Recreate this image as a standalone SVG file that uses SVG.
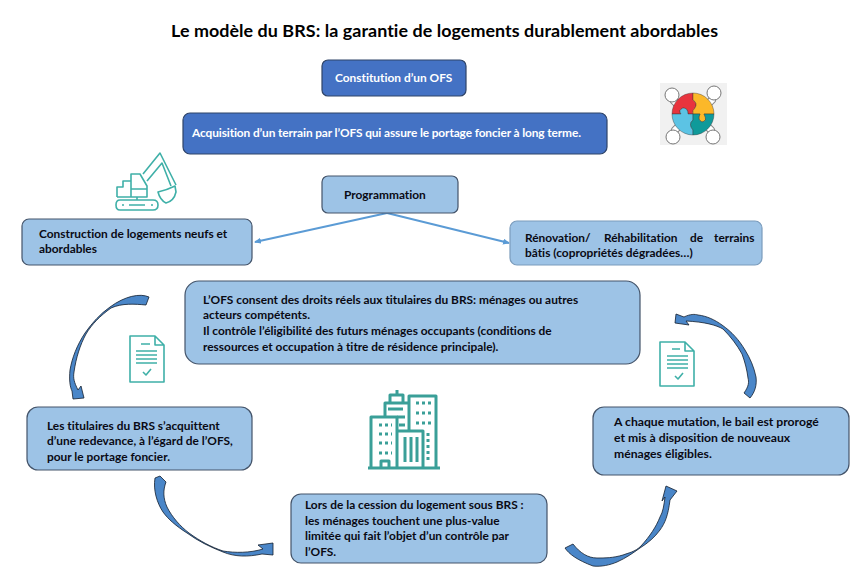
<svg xmlns="http://www.w3.org/2000/svg" width="868" height="575" viewBox="0 0 868 575">
<defs>
<marker id="ah" markerWidth="8" markerHeight="8" refX="6" refY="3" orient="auto" markerUnits="userSpaceOnUse"><path d="M0,0 L7,3 L0,6 Z" fill="#5b9bd5"/></marker>
</defs>
<style>
text{font-family:"Lato","Liberation Sans",sans-serif;font-weight:700;font-size:11.9px;fill:#0a0a14;font-variant-ligatures:none}
.t{font-size:17.9px;fill:#000}
.w{fill:#fff}
.d{fill:#4472c4;stroke:#2f4468;stroke-width:1.2}
.l{fill:#9dc3e6;stroke:#44546a;stroke-width:1.2}
.l2{fill:#9dc3e6;stroke:#7b9cbc;stroke-width:1.2}
.c{fill:none;stroke:#5b9bd5;stroke-width:2}
.a{fill:#4a86c8;stroke:#14202e;stroke-width:.8;stroke-linejoin:round}
.i{fill:none;stroke:#3fb0a8;stroke-width:1.6;stroke-linejoin:round}
.b{fill:none;stroke:#3a9f98;stroke-width:3;stroke-linejoin:round}
.o{fill:none;stroke:#8a8a8a;stroke-width:8;stroke-linecap:round}
.f{fill:none;stroke:#fff;stroke-width:6;stroke-linecap:round}
.p{fill:#fff;stroke:#777;stroke-width:1}
.z{stroke:#333;stroke-width:.4}
</style>
<rect width="868" height="575" fill="#fff"/>
<text class="t" x="171" y="37" textLength="547">Le modèle du BRS: la garantie de logements durablement abordables</text>
<g id="connectors">
<path class="c" d="M387,213 L255,242" marker-end="url(#ah)"/>
<path class="c" d="M387,213 L509,243" marker-end="url(#ah)"/>
<path class="a" d="M149,297 C140,293 125,296 110,307 C100,314 92,323 85,333 C77,345 72,358 70,370 C69,380 70,387 72,391 L73,399 L84,398 L81,386 L78,390 C74,382 73,378 74,372 C76,358 80,345 86,334 C92,324 100,316 111,308 C122,303 135,304 146,305 Z"/>
<path class="a" d="M155,478 L160,476 L166,482 C163,490 163,498 167,507 C172,517 180,526 189,533 C200,541 211,547 223,551 C235,553 250,553 263,549 L258,545 L273,543 L273,555 L262,554 C248,557 235,557 223,552 C210,547 198,541 187,533 C176,526 168,519 163,512 C157,503 153,490 155,478 Z"/>
<path class="a" d="M565,548 C569,554 577,560 593,566 C601,567 610,565 617,562 C626,558 633,553 640,548 C648,543 655,537 660,530 C665,523 668,516 670,500 L677,491 L666,486 L662,501 L665,497 C664,505 663,512 660,517 C656,527 650,536 641,546 C635,552 628,553 623,555 C613,558 605,558 597,558 C588,558 580,553 573,544 Z"/>
<path class="a" d="M676,314 L684,317 C690,314 695,314 698,315 C707,316 715,320 722,325 C732,332 739,340 745,350 C750,358 754,367 756,377 C757,385 755,392 750,398 L744,393 C749,386 749,382 748,378 C747,370 745,362 742,354 C737,345 731,337 723,329 C716,325 705,322 686,321 L689,325 L675,323 Z"/>
</g>
<g id="n1"><rect class="d" x="322" y="60" width="144" height="36" rx="6"/><text class="w" x="335" y="82">Constitution d’un OFS</text></g>
<g id="n2"><rect class="d" x="183" y="113" width="424" height="41" rx="7"/><text class="w" x="192" y="137" textLength="389">Acquisition d’un terrain par l’OFS qui assure le portage foncier à long terme.</text></g>
<g id="n3"><rect class="l" x="322" y="176" width="136" height="37" rx="6"/><text x="344" y="199">Programmation</text></g>
<g id="n4"><rect class="l" x="22" y="219" width="230" height="46" rx="7"/><text x="39" y="238">Construction de logements neufs et</text><text x="39" y="253">abordables</text></g>
<g id="n5"><rect class="l2" x="510" y="221" width="252" height="44" rx="7"/><text y="242"><tspan x="525">Rénovation/</tspan> <tspan x="604">Réhabilitation</tspan> <tspan x="690">de</tspan> <tspan x="714">terrains</tspan></text><text x="525" y="257">bâtis (copropriétés dégradées…)</text></g>
<g id="n6"><rect class="l" x="185" y="281" width="455" height="83" rx="14"/><text x="203" y="304">L’OFS consent des droits réels aux titulaires du BRS: ménages ou autres</text><text x="203" y="319">acteurs compétents.</text><text x="203" y="335">Il contrôle l’éligibilité des futurs ménages occupants (conditions de</text><text x="203" y="351">ressources et occupation à titre de résidence principale).</text></g>
<g id="n7"><rect class="l" x="27" y="407" width="225" height="63" rx="11"/><text x="47" y="430">Les titulaires du BRS s’acquittent</text><text x="47" y="445">d’une redevance, à l’égard de l’OFS,</text><text x="47" y="461">pour le portage foncier.</text></g>
<g id="n8"><rect class="l" x="291" y="494" width="256" height="69" rx="10"/><text x="305" y="509">Lors de la cession du logement sous BRS :</text><text x="305" y="525">les ménages touchent une plus-value</text><text x="305" y="540">limitée qui fait l’objet d’un contrôle par</text><text x="305" y="556">l’OFS.</text></g>
<g id="n9"><rect class="l" x="593" y="407" width="256" height="68" rx="11"/><text x="614" y="426" style="font-size:12.2px">A chaque mutation, le bail est prorogé</text><text x="614" y="442" style="font-size:12.2px">et mis à disposition de nouveaux</text><text x="614" y="458" style="font-size:12.2px">ménages éligibles.</text></g>
<g id="icon-excavator">
<path class="i" d="M120,200 H153 Q158,200 158,205 Q158,210 153,210 H120 Q116,210 116,205 Q116,200 120,200 Z"/>
<path class="i" d="M122,205 h2 M129,205 h16 M151,205 h2"/>
<path class="i" d="M117,197 V187 H123 V181 H131 V174 H140 L147,186 V197 H117 M131,174 V197 M131,189 H147 M137,197 V200"/>
<path class="i" d="M143,174 L160,153 L176,185 M147,181 L162,163 L171,186"/>
<path class="i" d="M158,192 Q167,190 175,186 L176,192 Q174,201 166,203 Q160,200 158,192 Z"/>
</g>
<g id="icon-doc-left">
<path class="i" d="M130,336 H155 L164,345 V382 H130 Z M155,336 V345 H164"/>
<path class="i" d="M141,344 H150 M136,351 H157 M136,355 H157 M136,359 H157 M136,363 H157"/>
<path class="i" d="M143,372 L146,375 L151,369"/>
</g>
<g id="icon-doc-right">
<path class="i" d="M660,342 H685 L694,351 V386 H660 Z M685,342 V351 H694"/>
<path class="i" d="M672,349 H680 M667,356 H688 M667,360 H688 M667,364 H688 M667,368 H688"/>
<path class="i" d="M675,376 L678,379 L683,373"/>
</g>
<g id="icon-buildings">
<path class="b" d="M368,468 H440"/>
<path class="b" d="M371,468 V417 H397 V468"/>
<path class="b" d="M385,417 V403 H409 M390,403 V395 H403 V403 M397,395 V390"/>
<path class="b" d="M409,431 V396 H436 V468"/>
<path class="b" d="M398,431 H423 V468 M405,437 V462 M411,437 V462 M417,437 V462"/>
<path class="b" d="M381,468 V461 H389 V468"/>
<path class="b" d="M379,425 H392 M379,434 H392 M379,443 H392 M379,453 H392 M416,403 H431 M416,413 H431 M416,423 H431 M428,433 V460" stroke-dasharray="3 3"/>
<path class="b" d="M388,409 H403 M397,417 H405 M399,425 H405"/>
</g>
<g id="icon-puzzle">
<rect x="660" y="83" width="67" height="62" fill="#f1f1f1"/>
<path class="o" d="M674,101 L684,111 M702,110 L712,100 M675,130 L685,120 M701,120 L711,130"/>
<path class="f" d="M674,101 L684,111 M702,110 L712,100 M675,130 L685,120 M701,120 L711,130"/>
<circle class="p" cx="672" cy="95" r="7"/><circle class="p" cx="714" cy="93" r="7"/><circle class="p" cx="673" cy="137" r="7"/><circle class="p" cx="713" cy="137" r="7"/>
<path class="z" d="M672,114 A21,21 0 0 1 693,93 V100 Q698,103 695,108 Q692,112 693,114 H688 Q688,108 683,108 Q678,110 681,114 Z" fill="#e8343e"/>
<path class="z" d="M693,93 A21,21 0 0 1 714,114 H704 Q708,121 702,122 Q697,120 700,114 H693 Q692,110 695,108 Q698,103 693,100 Z" fill="#fbb829"/>
<path class="z" d="M672,114 H681 Q678,110 683,108 Q688,108 688,114 H693 V120 Q688,124 693,130 V135 A21,21 0 0 1 672,114 Z" fill="#5cc3e4"/>
<path class="z" d="M693,135 A21,21 0 0 0 714,114 H704 Q708,121 702,122 Q697,120 700,114 H693 V120 Q688,124 693,130 Z" fill="#0f9a9a"/>
</g>
</svg>
